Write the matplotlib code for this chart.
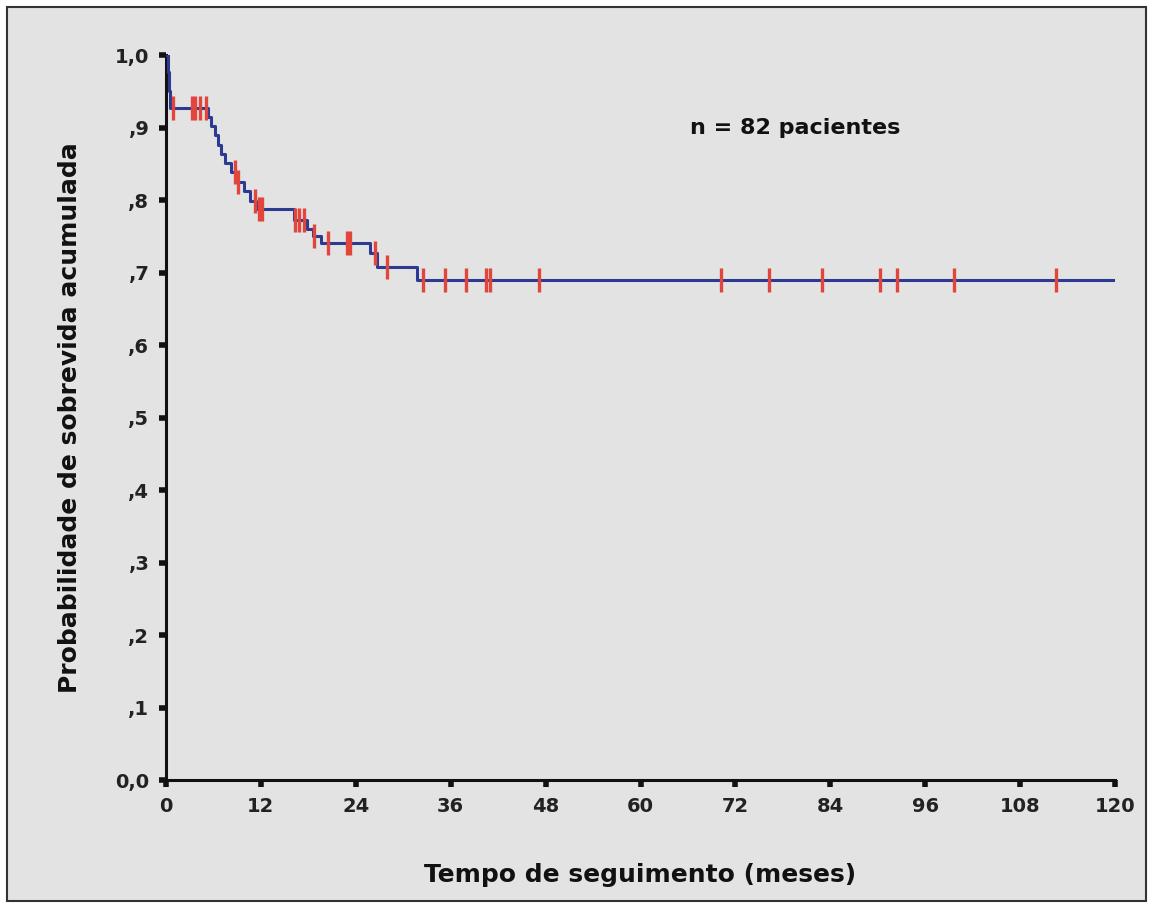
import numpy as np
import matplotlib
matplotlib.use('Agg')
import matplotlib.pyplot as plt
from matplotlib.patches import Rectangle

# Kaplan-Meier curve (months, cumulative survival)
step_times = [0.0, 0.25, 0.3, 0.35, 0.4, 0.45, 0.5,
              5.3, 5.7, 6.2, 6.6, 7.0, 7.5, 8.2, 9.0, 9.8, 10.6, 11.4,
              16.2, 17.8, 18.6, 19.6, 25.8, 26.7, 31.7]
step_surv = [1.0, 0.988, 0.976, 0.963, 0.951, 0.939, 0.927,
             0.914, 0.902, 0.889, 0.876, 0.864, 0.851, 0.838, 0.825, 0.812, 0.799, 0.787,
             0.773, 0.760, 0.750, 0.741, 0.727, 0.708, 0.689]
end_time = 120

# censored patients (months)
censor_times = [0.9, 3.3, 3.7, 4.3, 5.0, 8.7, 9.1, 11.2, 11.8, 12.1,
                16.3, 16.8, 17.4, 18.7, 20.5, 22.9, 23.3, 26.4, 27.9,
                32.5, 35.3, 37.9, 40.5, 41.0, 47.2, 70.2, 76.3, 82.9,
                90.3, 92.4, 99.6, 112.5]

x_ticks = list(range(0, 121, 12))
y_ticks = [0.0, 0.1, 0.2, 0.3, 0.4, 0.5, 0.6, 0.7, 0.8, 0.9, 1.0]
y_labels = ['0,0', ',1', ',2', ',3', ',4', ',5', ',6', ',7', ',8', ',9', '1,0']

plt.rcParams['font.family'] = ['DejaVu Sans']
bg = '#e3e3e3'

fig = plt.figure(figsize=(11.49, 9.05), dpi=100)
fig.patch.set_facecolor('white')
fig.patches.append(Rectangle((7 / 1149, 4 / 905), 1139 / 1149, 894 / 905,
                             transform=fig.transFigure, facecolor=bg,
                             edgecolor='#333333', lw=1.5, zorder=-10))

ax = fig.add_axes([166 / 1149, 1 - 780 / 905, 949 / 1149, 725 / 905])
ax.set_facecolor('none')

# step curve
xs = list(step_times) + [end_time]
ys = list(step_surv) + [step_surv[-1]]
ax.step(xs, ys, where='post', color='#2c3a92', lw=2.2, zorder=3)

# censor marks sit on the curve
idx = np.searchsorted(step_times, censor_times, side='right') - 1
cy = np.array(step_surv)[idx]
ax.plot(censor_times, cy, linestyle='none', marker='|', markersize=17,
        markeredgewidth=2.4, color='#e2453c', zorder=4)

ax.set_xlim(0, 120)
ax.set_ylim(0, 1.0)
ax.set_xticks(x_ticks)
ax.set_xticklabels([str(t) for t in x_ticks])
ax.set_yticks(y_ticks)
ax.set_yticklabels(y_labels)

for s in ['top', 'right']:
    ax.spines[s].set_visible(False)
for s in ['left', 'bottom']:
    ax.spines[s].set_linewidth(2.2)
    ax.spines[s].set_color('#111111')

ax.tick_params(axis='both', direction='out', length=5, width=4, color='#111111',
               labelsize=14, pad=7)
for lab in ax.get_xticklabels() + ax.get_yticklabels():
    lab.set_fontweight('bold')
    lab.set_color('#222222')

ax.set_xlabel('Tempo de seguimento (meses)', fontsize=18, fontweight='bold',
              color='#111111', labelpad=34)
ax.set_ylabel('Probabilidade de sobrevida acumulada', fontsize=18,
              fontweight='bold', color='#111111', labelpad=24)

ax.text(79.5, 0.90, 'n = 82 pacientes', ha='center', va='center',
        fontsize=16, fontweight='bold', color='#111111')

fig.savefig('out.png', dpi=100)
